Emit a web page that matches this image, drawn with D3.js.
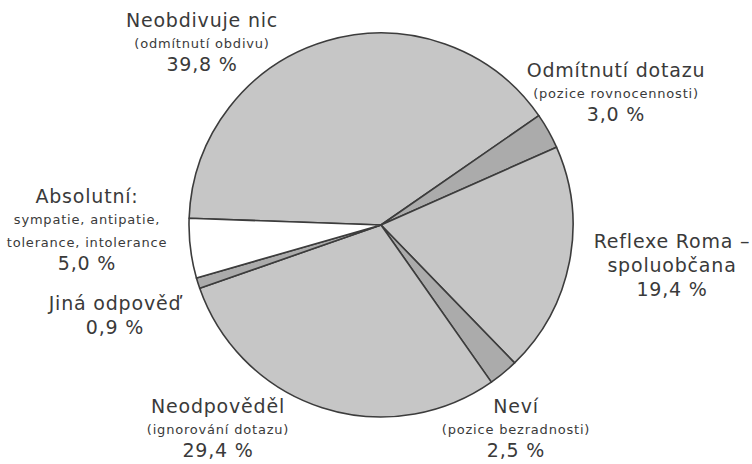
<!DOCTYPE html>
<html>
<head>
<meta charset="utf-8">
<script src="https://cdn.jsdelivr.net/npm/d3@7"></script>
<style>
  body { margin: 0; background: #fff; }
  text { font-family: "DejaVu Sans", sans-serif; fill: #3a3a3a; letter-spacing: 0.8px; }
</style>
</head>
<body>
<div id="chart"></div>
<script>
// categories, clockwise from top-left
const categories = ["Neobdivuje nic", "Odmítnutí dotazu", "Reflexe Roma –|spoluobčana",
    "Neví", "Neodpověděl", "Jiná odpověď", "Absolutní:"];
const subLabels = ["(odmítnutí obdivu)", "(pozice rovnocennosti)", "",
    "(pozice bezradnosti)", "(ignorování dotazu)", "", "sympatie, antipatie,|tolerance, intolerance"];
const shares = [39.8, 3.0, 19.4, 2.5, 29.4, 0.9, 5.0];

// label anchor (centre x, first baseline y) - set by hand like the original
const labelPos = [[202, 27], [616, 77], [672, 248], [516, 413], [218, 413], [115, 310], [87, 203]];

const width = 752, height = 464;
const cx = 381, cy = 225, radius = 192;

const fills = ["#c6c6c6", "#ababab", "#c6c6c6", "#ababab", "#c6c6c6", "#ababab", "#ffffff"];

let svg = d3.select("#chart")
    .append("svg")
    .attr("width", width)
    .attr("height", height);

let pie = d3.pie()
    .sort(null)
    .startAngle(-88 * Math.PI / 180)
    .endAngle(272 * Math.PI / 180);

let arc = d3.arc()
    .innerRadius(0)
    .outerRadius(radius);

let g = svg.append("g")
    .attr("transform", "translate(" + cx + "," + cy + ")");

g.selectAll("path")
    .data(pie(shares))
    .enter()
    .append("path")
    .attr("d", arc)
    .style("fill", (d, i) => fills[i])
    .style("stroke", "#3c3c3c")
    .style("stroke-width", 1.6)
    .style("stroke-linejoin", "round");

let fmt = v => d3.format(".1f")(v).replace(".", ",") + " %";

for (let i = 0; i < categories.length; i++) {
    let lines = [];
    categories[i].split("|").forEach(t => lines.push({t: t, big: true}));
    if (subLabels[i]) subLabels[i].split("|").forEach(t => lines.push({t: t, big: false}));
    lines.push({t: fmt(shares[i]), big: true});

    let y = labelPos[i][1];
    let lab = svg.append("text")
        .attr("text-anchor", "middle");
    lines.forEach((l, k) => {
        if (k > 0) {
            let prev = lines[k - 1].big;
            if (prev && l.big) y += 24;
            else if (prev && !l.big) y += 21;
            else if (!prev && l.big) y += 23;
            else y += 23;
        }
        lab.append("tspan")
            .attr("x", labelPos[i][0])
            .attr("y", y)
            .style("font-size", l.big ? "19px" : "13px")
            .text(l.t);
    });
}
</script>
</body>
</html>
